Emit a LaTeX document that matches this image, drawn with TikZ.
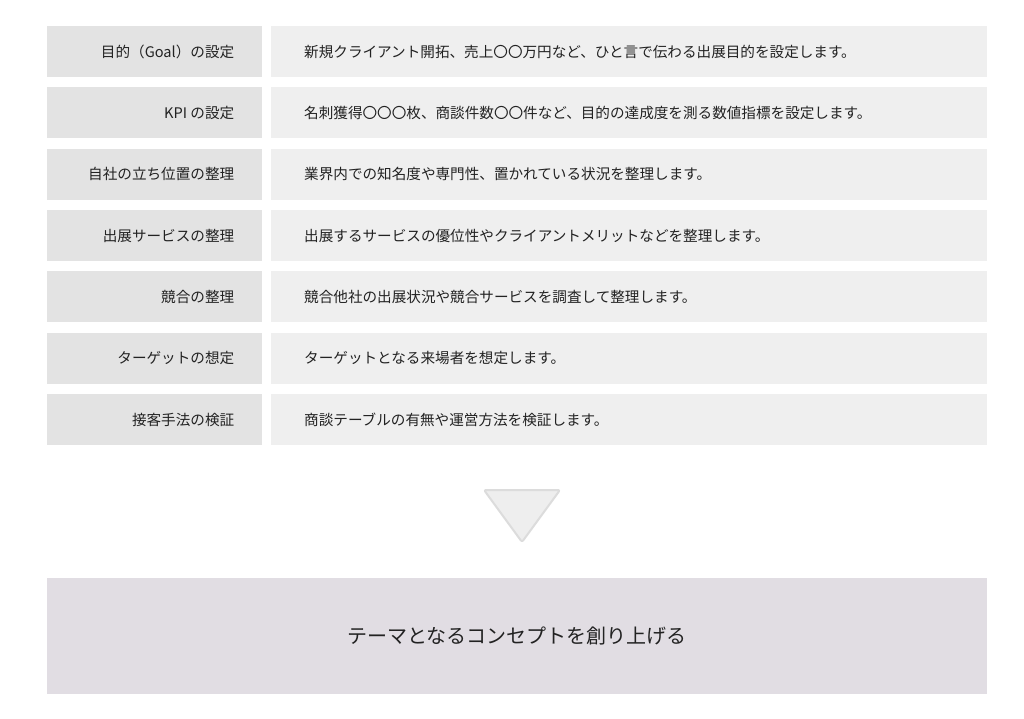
\documentclass[tikz,border=0pt]{standalone}
\usepackage{fontspec}
\setmainfont{Noto Sans CJK JP}
\definecolor{lbox}{HTML}{E3E3E3}
\definecolor{rbox}{HTML}{EFEFEF}
\definecolor{bbox}{HTML}{E1DDE3}
\definecolor{txt}{HTML}{222222}
\definecolor{trifill}{HTML}{EEEEEE}
\definecolor{tridraw}{HTML}{DCDCDC}
\begin{document}
\begin{tikzpicture}[x=1pt,y=-1pt,
  lcell/.style={fill=lbox,draw=none,minimum width=215pt,minimum height=51pt,inner sep=0pt,anchor=north west},
  rcell/.style={fill=rbox,draw=none,minimum width=716pt,minimum height=51pt,inner sep=0pt,anchor=north west},
  ltext/.style={anchor=east,text=txt,font=\fontsize{14.6}{17}\selectfont,inner sep=0pt},
  rtext/.style={anchor=west,text=txt,font=\fontsize{14.6}{17}\selectfont,inner sep=0pt}]
\useasboundingbox[fill=white] (0,0) rectangle (1024,719);
\foreach \i/\l/\r in {0/{目的（Goal）の設定}/{新規クライアント開拓、売上〇〇万円など、ひと言で伝わる出展目的を設定します。},
  1/{KPI の設定}/{名刺獲得〇〇〇枚、商談件数〇〇件など、目的の達成度を測る数値指標を設定します。},
  2/{自社の立ち位置の整理}/{業界内での知名度や専門性、置かれている状況を整理します。},
  3/{出展サービスの整理}/{出展するサービスの優位性やクライアントメリットなどを整理します。},
  4/{競合の整理}/{競合他社の出展状況や競合サービスを調査して整理します。},
  5/{ターゲットの想定}/{ターゲットとなる来場者を想定します。},
  6/{接客手法の検証}/{商談テーブルの有無や運営方法を検証します。}}{
  \pgfmathsetmacro{\yy}{26+61.3*\i}
  \node[lcell] (L\i) at (47,\yy) {};
  \node[rcell] (R\i) at (271,\yy) {};
  \node[ltext] (LT\i) at ([xshift=-28pt]L\i.east) {\l};
  \node[rtext] (RT\i) at ([xshift=33pt]R\i.west) {\r};
}
\coordinate (t1) at (484,490);
\coordinate (t2) at (560,490);
\coordinate (t3) at (522,542);
\draw[fill=trifill,draw=tridraw,line width=2pt,line join=round,rounded corners=2pt] (t1) -- (t2) -- (t3) -- cycle;
\node[fill=bbox,minimum width=940pt,minimum height=116pt,inner sep=0pt,anchor=north west] (B) at (47,578) {};
\node[text=txt,font=\fontsize{20}{24}\selectfont] (BT) at (B.center) {テーマとなるコンセプトを創り上げる};
\end{tikzpicture}
\end{document}
